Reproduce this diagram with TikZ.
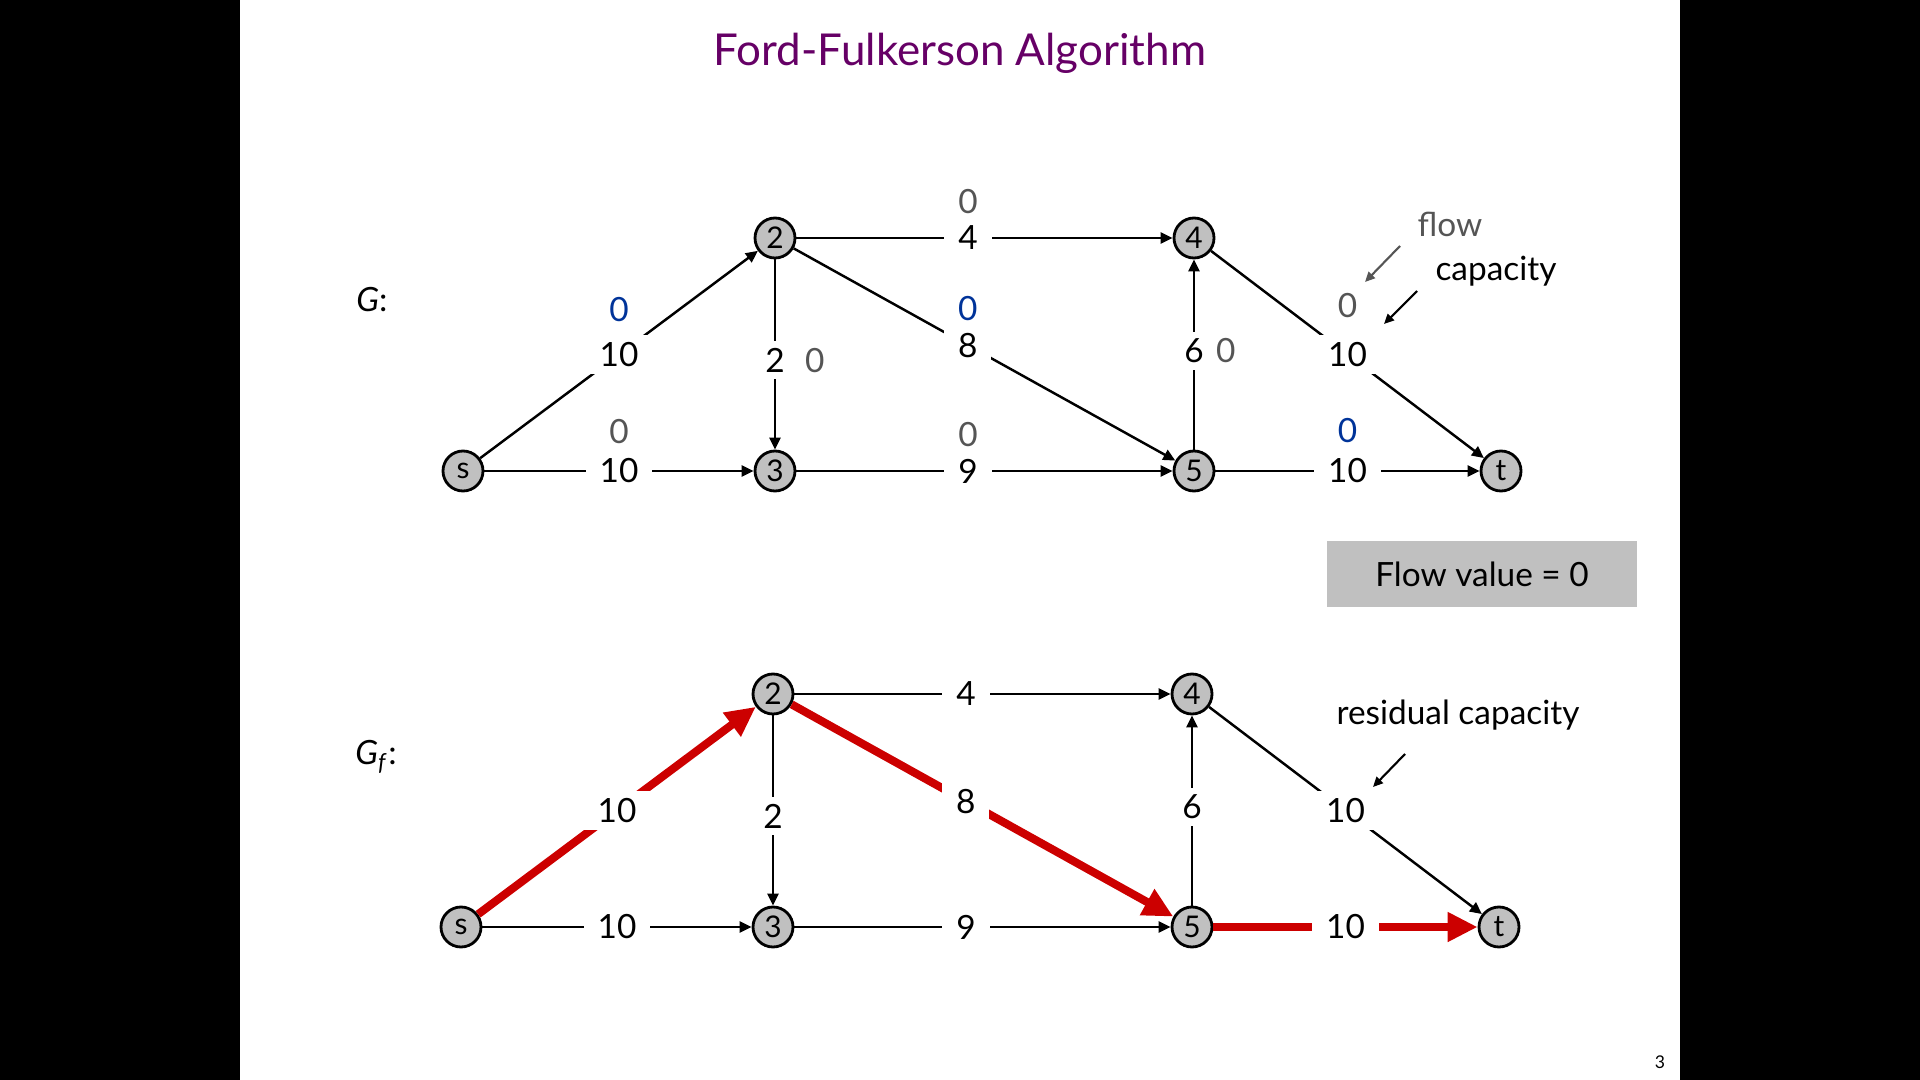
\documentclass[tikz,border=0pt]{standalone}
\usepackage{fontspec}
\setmainfont{Lato}
\usetikzlibrary{arrows.meta,positioning}
\definecolor{fftitle}{RGB}{102,0,102}
\definecolor{ffblue}{RGB}{0,51,153}
\definecolor{ffgray}{RGB}{85,85,85}
\definecolor{ffnode}{RGB}{192,192,192}
\definecolor{ffred}{RGB}{204,0,0}
\newcommand\lblfont{\fontsize{9.5}{11}\selectfont}
\tikzset{
  vtx/.style={circle,draw=black,fill=ffnode,line width=0.8pt,minimum size=0.4cm,inner sep=0pt,font=\fontsize{8.5}{9}\selectfont},
  edgeln/.style={line width=0.7pt,-{Triangle[length=1.2mm,width=1.1mm]}},
  augm/.style={draw=ffred,line width=2.3pt,-{Triangle[length=3mm,width=2.8mm]}},
  caplbl/.style={fill=white,inner xsep=4pt,inner ysep=2pt,font=\lblfont},
  flowg/.style={text=ffgray,inner sep=1pt,font=\lblfont},
  flowb/.style={text=ffblue,inner sep=1pt,font=\lblfont},
  note/.style={line width=0.6pt,-{Triangle[length=1mm,width=0.9mm]}},
}

\begin{document}
\begin{tikzpicture}
\useasboundingbox (0,0) rectangle (19.2,-10.8);
\fill[black] (0,0) rectangle (2.4,-10.8);
\fill[black] (16.8,0) rectangle (19.2,-10.8);
\node[text=fftitle,font=\fontsize{12.5}{14}\selectfont] (title) at (9.6,-0.53) {Ford-Fulkerson Algorithm};
% network G with flow
\node[font=\lblfont] (glbl) at (3.72,-3.00) {\textit{G}:};
\foreach \n/\x/\y in {s/4.63/-4.71,2/7.75/-2.38,3/7.75/-4.71,4/11.94/-2.38,5/11.94/-4.71,t/15.01/-4.71} {\node[vtx] (g\n) at (\x,\y) {\n};}
\draw[edgeln] (gs) -- node[caplbl] (gc1) {10} (g2);
\draw[edgeln] (gs) -- node[caplbl] (gc2) {10} (g3);
\draw[edgeln] (g2) -- node[caplbl,pos=0.53] (gc3) {2} (g3);
\draw[edgeln] (g2) -- node[caplbl,pos=0.456] (gc4) {4} (g4);
\draw[edgeln] (g2) -- node[caplbl,pos=0.456] (gc5) {8} (g5);
\draw[edgeln] (g3) -- node[caplbl,pos=0.456] (gc6) {9} (g5);
\draw[edgeln] (g5) -- node[caplbl,pos=0.52] (gc7) {6} (g4);
\draw[edgeln] (g4) -- node[caplbl] (gc8) {10} (gt);
\draw[edgeln] (g5) -- node[caplbl] (gc9) {10} (gt);
\node[flowb,above=0.8mm of gc1] (gf1) {0};
\node[flowg,above=0.3mm of gc2] (gf2) {0};
\node[flowg,right=0.1mm of gc3] (gf3) {0};
\node[flowg,above=0mm of gc4] (gf4) {0};
\node[flowb,above=0mm of gc5] (gf5) {0};
\node[flowg,above=0mm of gc6] (gf6) {0};
\node[flowg,right=-0.7mm of gc7] (gf7) {0};
\node[flowg,above=1.2mm of gc8] (gf8) {0};
\node[flowb,above=0.4mm of gc9] (gf9) {0};
\node[text=ffgray,font=\lblfont] (flowtxt) at (14.50,-2.24) {flow};
\node[font=\lblfont] (captxt) at (14.96,-2.71) {capacity};
\coordinate (fa) at (14.00,-2.46); \coordinate (fb) at (13.65,-2.82);
\draw[note,ffgray] (fa) -- (fb);
\coordinate (ca) at (14.17,-2.91); \coordinate (cb) at (13.84,-3.24);
\draw[note] (ca) -- (cb);
\node[fill=ffnode,minimum width=3.1cm,minimum height=0.66cm,font=\lblfont] (fval) at (14.82,-5.74) {Flow value = 0};
% residual graph
\node[font=\lblfont] (rlbl) at (3.76,-7.57) {\textit{G}\textsubscript{\textit{f}}:};
\foreach \n/\x/\y in {s/4.61/-4.71,2/7.73/-2.38,3/7.73/-4.71,4/11.92/-2.38,5/11.92/-4.71,t/14.99/-4.71} {\node[vtx,yshift=-4.56cm] (r\n) at (\x,\y) {\n};}
\draw[augm] (rs) -- node[caplbl] (rc1) {10} (r2);
\draw[edgeln] (rs) -- node[caplbl] (rc2) {10} (r3);
\draw[edgeln] (r2) -- node[caplbl,pos=0.53] (rc3) {2} (r3);
\draw[edgeln] (r2) -- node[caplbl,pos=0.456] (rc4) {4} (r4);
\draw[augm] (r2) -- node[caplbl,pos=0.456] (rc5) {8} (r5);
\draw[edgeln] (r3) -- node[caplbl,pos=0.456] (rc6) {9} (r5);
\draw[edgeln] (r5) -- node[caplbl,pos=0.52] (rc7) {6} (r4);
\draw[edgeln] (r4) -- node[caplbl] (rc8) {10} (rt);
\draw[augm] (r5) -- node[caplbl] (rc9) {10} (rt);
\node[font=\lblfont] (restxt) at (14.58,-7.15) {residual capacity};
\coordinate (ra) at (14.05,-7.54); \coordinate (rb) at (13.73,-7.87);
\draw[note] (ra) -- (rb);
\node[font=\tiny] (pnum) at (16.60,-10.62) {3};
\end{tikzpicture}
\end{document}
